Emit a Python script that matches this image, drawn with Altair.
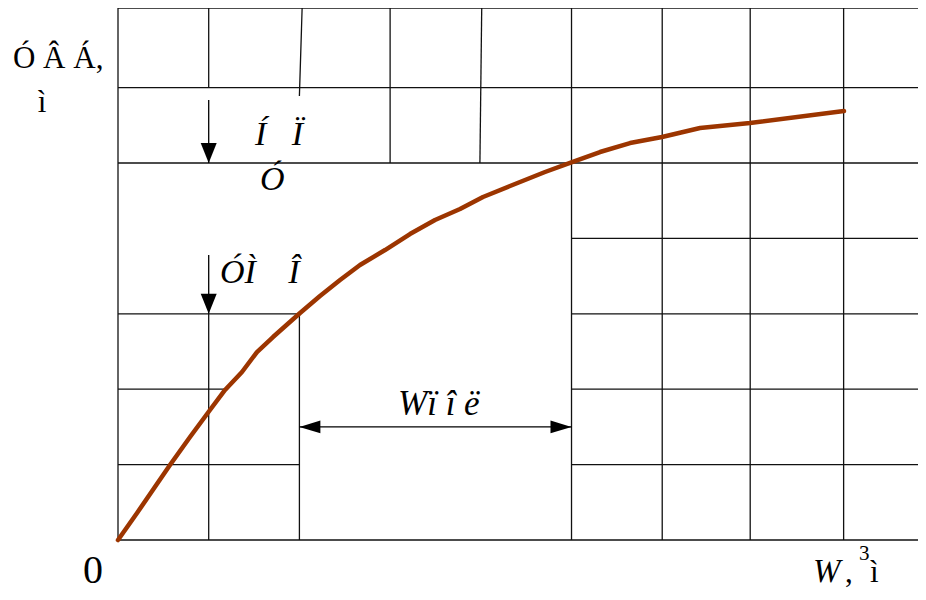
import altair as alt
import pandas as pd

# ---- geometry of the diagram in grid units (1 unit = one grid cell) ----
XMAX = 8.82   # right edge of plot area
YMAX = 7.056  # top edge of plot area

# grid / frame segments: x1, y1, x2, y2
seg_x1 = [0, 0, 5, 0, 0, 5, 5, 5, 0, 0, 0,
          0, 1, 1, 2, 2.0, 3, 3.99, 5, 6, 6.97, 8]
seg_y1 = [0, 1, 1, 2, 3, 3, 2, 4, 5, 6, YMAX,
          0, 0, 6, 0, 5.89, 5, 5, 0, 0, 0, 0]
seg_x2 = [XMAX, 2, XMAX, 1.18, 2, XMAX, XMAX, XMAX, XMAX, XMAX, XMAX,
          0, 1, 1, 2, 2.03, 3, 4.01, 5, 6, 6.97, 8]
seg_y2 = [0, 1, 1, 2, 3, 3, 2, 4, 5, 6, YMAX,
          YMAX, 3, YMAX, 3, YMAX, YMAX, YMAX, YMAX, YMAX, YMAX, YMAX]

# storage curve: volume W vs upstream level
curve_w = [0, 0.21, 0.573, 0.794, 1.014, 1.18, 1.367, 1.532, 1.709, 2.007,
           2.227, 2.448, 2.668, 2.944, 3.219, 3.495, 3.771, 4.024, 4.322,
           4.708, 5.006, 5.314, 5.645, 5.998, 6.417, 6.968, 8.004]
curve_z = [0, 0.358, 0.995, 1.366, 1.724, 1.99, 2.228, 2.493, 2.692, 3.011,
           3.236, 3.448, 3.647, 3.846, 4.058, 4.244, 4.39, 4.549, 4.695,
           4.881, 5.013, 5.146, 5.265, 5.345, 5.464, 5.53, 5.69]

# arrows
down_x = [1, 1]
down_y_from = [5.835, 3.78]
down_y_to = [5.0, 3.0]
harrow_y = 1.5
harrow_from = 2
harrow_to = 5

NB = "\u00a0"
# labels
lbl_text = ["Ó Â Á,", "ì", "Í" + NB * 3 + "Ï", "Ó", "ÓÌ" + NB * 3 + "\u2009Î",
            "Wï î ë", "0", "W", ",", "3", "ì"]
lbl_x = [-1.158, -0.838, 1.51, 1.566, 1.125, 3.087, -0.386, 7.663, 8.015, 8.17, 8.29]
lbl_y = [6.26, 5.676, 5.239, 4.642, 3.408, 1.658, -0.57, -0.557, -0.557, -0.265, -0.557]
lbl_size = [31, 31, 34, 34, 34, 35, 40, 33, 31, 21, 31]
lbl_italic = [False, False, True, True, True, True, False, True, False, False, False]
lbl_align = ["left", "center", "left", "left", "left", "left", "left", "left",
             "left", "left", "left"]

segs = pd.DataFrame({"x": seg_x1, "y": seg_y1, "x2": seg_x2, "y2": seg_y2})
curve = pd.DataFrame({"w": curve_w, "z": curve_z})
downs = pd.DataFrame({"x": down_x, "y": down_y_from, "y2": down_y_to})
harrow = pd.DataFrame({"x": [harrow_from], "x2": [harrow_to], "y": [harrow_y]})
left_head = pd.DataFrame({"x": [harrow_from], "y": [harrow_y]})
right_head = pd.DataFrame({"x": [harrow_to], "y": [harrow_y]})
down_heads = pd.DataFrame({"x": down_x, "y": down_y_to})
labels = pd.DataFrame({"t": lbl_text, "x": lbl_x, "y": lbl_y, "fs": lbl_size,
                       "it": lbl_italic, "al": lbl_align})

XS = alt.Scale(domain=[0, XMAX], nice=False, zero=False)
YS = alt.Scale(domain=[0, YMAX], nice=False, zero=False)

def X(f):
    return alt.X(f, type="quantitative", scale=XS, axis=None)

def Y(f):
    return alt.Y(f, type="quantitative", scale=YS, axis=None)

LINE = "#111111"

grid = alt.Chart(segs).mark_rule(color=LINE, strokeWidth=1.3).encode(
    x=X("x"), y=Y("y"), x2="x2", y2="y2")

line = alt.Chart(curve).mark_line(color="#9c3500", strokeWidth=4.5,
                                  strokeCap="round", strokeJoin="round").encode(
    x=X("w"), y=Y("z"), order="w:Q")

shafts = alt.Chart(downs).mark_rule(color="black", strokeWidth=1.3).encode(
    x=X("x"), y=Y("y"), y2="y2")

hshaft = alt.Chart(harrow).mark_rule(color="black", strokeWidth=1.3).encode(
    x=X("x"), x2="x2", y=Y("y"))

dheads = alt.Chart(down_heads).mark_point(
    shape="M -0.4 -1 L 0.4 -1 L 0 0 Z", size=1600, filled=True,
    color="black", opacity=1, strokeWidth=0).encode(x=X("x"), y=Y("y"))

lhead = alt.Chart(left_head).mark_point(
    shape="M 0 0 L 1 -0.3 L 1 0.3 Z", size=1764, filled=True,
    color="black", opacity=1, strokeWidth=0).encode(x=X("x"), y=Y("y"))

rhead = alt.Chart(right_head).mark_point(
    shape="M 0 0 L -1 -0.3 L -1 0.3 Z", size=1764, filled=True,
    color="black", opacity=1, strokeWidth=0).encode(x=X("x"), y=Y("y"))

def text_layer(italic, align):
    d = labels[(labels.it == italic) & (labels.al == align)]
    return alt.Chart(d).mark_text(
        font="Liberation Serif",
        fontStyle="italic" if italic else "normal",
        align=align, baseline="alphabetic", color="black").encode(
        x=X("x"), y=Y("y"), text="t:N", size=alt.Size("fs:Q", scale=None))

texts = [text_layer(True, "left"), text_layer(False, "left"),
         text_layer(False, "center")]

chart = alt.layer(grid, line, shafts, hshaft, dheads, lhead, rhead, *texts).properties(
    width=800, height=532,
    autosize=alt.AutoSizeParams(type="none"),
    padding={"left": 110, "top": 0, "right": 0, "bottom": 52},
).configure_view(stroke=None)

chart.save("out.html", embed_options={"renderer": "svg", "actions": False})
